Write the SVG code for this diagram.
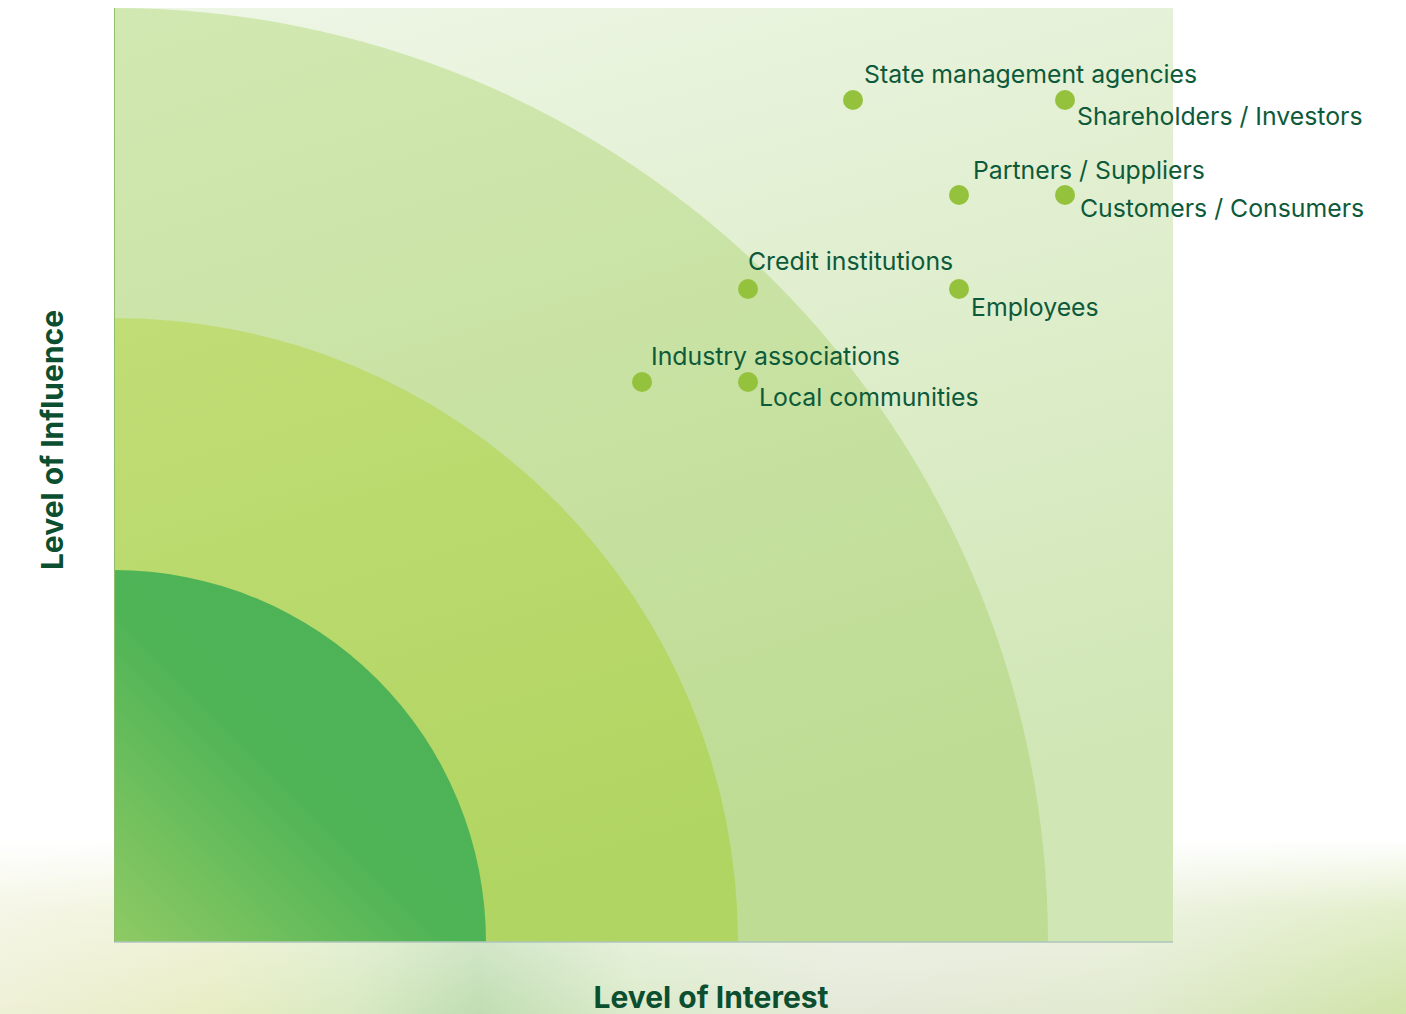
<svg xmlns="http://www.w3.org/2000/svg" width="1406" height="1014" viewBox="0 0 1406 1014">
<defs>
<linearGradient id="bgH" x1="0" y1="0" x2="1" y2="0">
<stop offset="0" stop-color="#eef0d6"/>
<stop offset="0.15" stop-color="#e8edc4"/>
<stop offset="0.25" stop-color="#d9eac2"/>
<stop offset="0.34" stop-color="#c0ddb2"/>
<stop offset="0.45" stop-color="#dcebcb"/>
<stop offset="0.6" stop-color="#e4e9d8"/>
<stop offset="0.8" stop-color="#e1eacf"/>
<stop offset="1" stop-color="#d0e4a8"/>
</linearGradient>
<linearGradient id="bgV" x1="0" y1="0" x2="0" y2="1">
<stop offset="0" stop-color="#ffffff" stop-opacity="1"/>
<stop offset="0.4" stop-color="#ffffff" stop-opacity="0.4"/>
<stop offset="1" stop-color="#ffffff" stop-opacity="0"/>
</linearGradient>
<linearGradient id="gOut" x1="0" y1="0" x2="0.3" y2="1">
<stop offset="0" stop-color="#eef6e6"/>
<stop offset="1" stop-color="#d0e6b4"/>
</linearGradient>
<linearGradient id="gR3" x1="0" y1="0" x2="0.3" y2="1">
<stop offset="0" stop-color="#d2e8b2"/>
<stop offset="1" stop-color="#bedc94"/>
</linearGradient>
<linearGradient id="gR2" x1="0" y1="0" x2="0.3" y2="1">
<stop offset="0" stop-color="#c1dd76"/>
<stop offset="1" stop-color="#b1d562"/>
</linearGradient>
<linearGradient id="gR1" x1="0" y1="1" x2="0.75" y2="0.25">
<stop offset="0" stop-color="#8fca64"/>
<stop offset="0.6" stop-color="#4fb456"/>
<stop offset="1" stop-color="#4db356"/>
</linearGradient>
<style>
.dot{fill:#95c23d}
.lbl{font-family:Inter,"Noto Sans","Liberation Sans",sans-serif;font-size:24.8px;fill:#0d5a3a}
.ax{font-family:Inter,"Noto Sans","Liberation Sans",sans-serif;font-size:30px;font-weight:700;fill:#0b4f30}
</style>
</defs>
<rect width="1406" height="1014" fill="#ffffff"/>
<g id="background">
<rect x="0" y="840" width="1406" height="174" fill="url(#bgH)"/>
<rect x="0" y="840" width="1406" height="174" fill="url(#bgV)"/>
</g>
<g id="chart">
<rect x="114" y="8" width="1059" height="934" fill="url(#gOut)"/>
<path d="M114 942 L114 8 A934 934 0 0 1 1048 942 Z" fill="url(#gR3)"/>
<path d="M114 942 L114 318 A624 624 0 0 1 738 942 Z" fill="url(#gR2)"/>
<path d="M114 942 L114 570 A372 372 0 0 1 486 942 Z" fill="url(#gR1)"/>
<line x1="114" y1="942" x2="1173" y2="942" stroke="#aec4bb" stroke-width="1.5"/>
<line x1="114.5" y1="8" x2="114.5" y2="942" stroke="#8fbf6a" stroke-width="1"/>
</g>
<g id="connectors"></g>
<g id="node-state"><circle class="dot" cx="853" cy="100" r="10"/><text class="lbl" x="864" y="83">State management agencies</text></g>
<g id="node-shareholders"><circle class="dot" cx="1065" cy="100" r="10"/><text class="lbl" x="1077" y="125">Shareholders / Investors</text></g>
<g id="node-partners"><circle class="dot" cx="959" cy="195" r="10"/><text class="lbl" x="973" y="179">Partners / Suppliers</text></g>
<g id="node-customers"><circle class="dot" cx="1065" cy="195" r="10"/><text class="lbl" x="1080" y="217">Customers / Consumers</text></g>
<g id="node-credit"><circle class="dot" cx="748" cy="289" r="10"/><text class="lbl" x="748" y="270">Credit institutions</text></g>
<g id="node-employees"><circle class="dot" cx="959" cy="289" r="10"/><text class="lbl" x="971" y="316">Employees</text></g>
<g id="node-industry"><circle class="dot" cx="642" cy="382" r="10"/><text class="lbl" x="651" y="365">Industry associations</text></g>
<g id="node-local"><circle class="dot" cx="748" cy="382" r="10"/><text class="lbl" x="759" y="406">Local communities</text></g>
<g id="axis-labels">
<text class="ax" x="711" y="1008" text-anchor="middle">Level of Interest</text>
<text class="ax" transform="translate(63 440) rotate(-90)" text-anchor="middle">Level of Influence</text>
</g>
</svg>
